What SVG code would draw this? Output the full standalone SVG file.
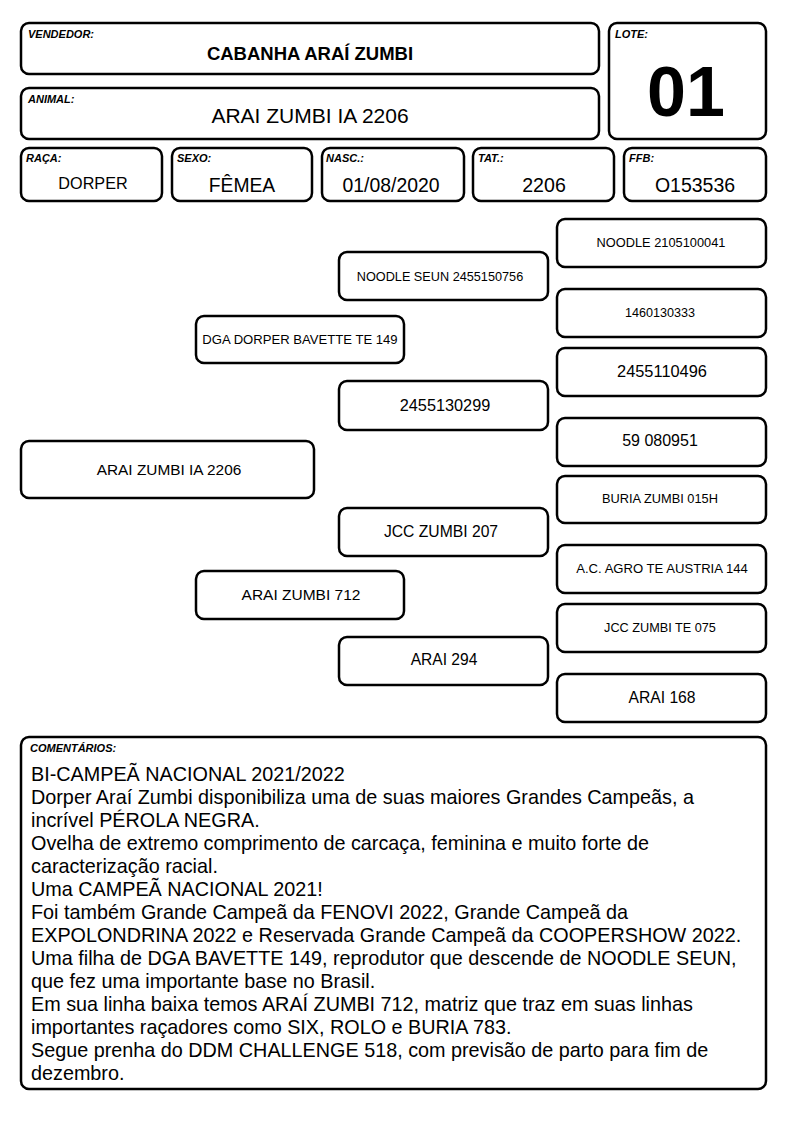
<svg xmlns="http://www.w3.org/2000/svg" width="794" height="1123" viewBox="0 0 794 1123">
<style>
.b{fill:#fff;stroke:#000;stroke-width:2.5}
text{font-family:"Liberation Sans",Arial,sans-serif;fill:#000}
.l{font-size:11px;font-weight:bold;font-style:italic}
.c{text-anchor:middle}
.cm{font-size:19.8px}
</style>
<rect width="794" height="1123" fill="#fff"/>
<g id="vendedor"><rect class="b" x="21" y="23" width="578" height="51" rx="8"/><text class="l" x="28" y="38">VENDEDOR:</text><text class="c" x="310" y="60" font-size="18.5" font-weight="bold">CABANHA ARAÍ ZUMBI</text></g>
<g id="animal"><rect class="b" x="21" y="88" width="578" height="51" rx="8"/><text class="l" x="28" y="103">ANIMAL:</text><text class="c" x="310" y="123" font-size="21">ARAI ZUMBI IA 2206</text></g>
<g id="lote"><rect class="b" x="609" y="23" width="157" height="116" rx="8"/><text class="l" x="615" y="38">LOTE:</text><text class="c" x="686" y="116" font-size="70" font-weight="bold">01</text></g>
<g id="raca"><rect class="b" x="21" y="148" width="141" height="53" rx="8"/><text class="l" x="26" y="162">RAÇA:</text><text class="c" x="93" y="189" font-size="16.2">DORPER</text></g>
<g id="sexo"><rect class="b" x="172" y="148" width="140" height="53" rx="8"/><text class="l" x="177" y="162">SEXO:</text><text class="c" x="242" y="192" font-size="19.3">FÊMEA</text></g>
<g id="nasc"><rect class="b" x="322" y="148" width="142" height="53" rx="8"/><text class="l" x="326" y="162">NASC.:</text><text class="c" x="391" y="192" font-size="19.4">01/08/2020</text></g>
<g id="tat"><rect class="b" x="473" y="148" width="141" height="53" rx="8"/><text class="l" x="478" y="162">TAT.:</text><text class="c" x="544" y="192" font-size="19.6">2206</text></g>
<g id="ffb"><rect class="b" x="624" y="148" width="142" height="53" rx="8"/><text class="l" x="629" y="162">FFB:</text><text class="c" x="695" y="192" font-size="19.5">O153536</text></g>
<g id="connectors"></g>
<g id="n-animal"><rect class="b" x="21" y="441" width="293" height="57" rx="8"/><text class="c" x="169" y="475" font-size="15.4">ARAI ZUMBI IA 2206</text></g>
<g id="n-pai"><rect class="b" x="196" y="316" width="208" height="47" rx="8"/><text class="c" x="300" y="344" font-size="13.1">DGA DORPER BAVETTE TE 149</text></g>
<g id="n-mae"><rect class="b" x="196" y="571" width="208" height="48" rx="8"/><text class="c" x="301" y="600" font-size="15.5">ARAI ZUMBI 712</text></g>
<g id="n-aa1"><rect class="b" x="339" y="252" width="209" height="48" rx="8"/><text class="c" x="440" y="281" font-size="12.7">NOODLE SEUN 2455150756</text></g>
<g id="n-aa2"><rect class="b" x="339" y="381" width="209" height="49" rx="8"/><text class="c" x="445" y="411" font-size="16.3">2455130299</text></g>
<g id="n-aa3"><rect class="b" x="339" y="508" width="209" height="48" rx="8"/><text class="c" x="441" y="537" font-size="15.7">JCC ZUMBI 207</text></g>
<g id="n-aa4"><rect class="b" x="339" y="637" width="209" height="48" rx="8"/><text class="c" x="444" y="665" font-size="15.6">ARAI 294</text></g>
<g id="n-b1"><rect class="b" x="557" y="219" width="209" height="48" rx="8"/><text class="c" x="661" y="247" font-size="12.8">NOODLE 2105100041</text></g>
<g id="n-b2"><rect class="b" x="557" y="289" width="209" height="48" rx="8"/><text class="c" x="660" y="317" font-size="12.6">1460130333</text></g>
<g id="n-b3"><rect class="b" x="557" y="348" width="209" height="48" rx="8"/><text class="c" x="662" y="377" font-size="16.4">2455110496</text></g>
<g id="n-b4"><rect class="b" x="557" y="418" width="209" height="48" rx="8"/><text class="c" x="660" y="446" font-size="16">59 080951</text></g>
<g id="n-b5"><rect class="b" x="557" y="476" width="209" height="47" rx="8"/><text class="c" x="660" y="503" font-size="12.8">BURIA ZUMBI 015H</text></g>
<g id="n-b6"><rect class="b" x="557" y="545" width="209" height="48" rx="8"/><text class="c" x="662" y="573" font-size="13.1">A.C. AGRO TE AUSTRIA 144</text></g>
<g id="n-b7"><rect class="b" x="557" y="604" width="209" height="48" rx="8"/><text class="c" x="660" y="632" font-size="12.7">JCC ZUMBI TE 075</text></g>
<g id="n-b8"><rect class="b" x="557" y="674" width="209" height="48" rx="8"/><text class="c" x="662" y="703" font-size="15.7">ARAI 168</text></g>
<g id="comentarios"><rect class="b" x="21" y="737" width="745" height="352" rx="8"/><text class="l" x="30" y="752">COMENTÁRIOS:</text>
<text class="cm" x="31" y="781">BI-CAMPEÃ NACIONAL 2021/2022</text>
<text class="cm" x="31" y="804">Dorper Araí Zumbi disponibiliza uma de suas maiores Grandes Campeãs, a</text>
<text class="cm" x="31" y="827">incrível PÉROLA NEGRA.</text>
<text class="cm" x="31" y="850">Ovelha de extremo comprimento de carcaça, feminina e muito forte de</text>
<text class="cm" x="31" y="873">caracterização racial.</text>
<text class="cm" x="31" y="896">Uma CAMPEÃ NACIONAL 2021!</text>
<text class="cm" x="31" y="919">Foi também Grande Campeã da FENOVI 2022, Grande Campeã da</text>
<text class="cm" x="31" y="942">EXPOLONDRINA 2022 e Reservada Grande Campeã da COOPERSHOW 2022.</text>
<text class="cm" x="31" y="965">Uma filha de DGA BAVETTE 149, reprodutor que descende de NOODLE SEUN,</text>
<text class="cm" x="31" y="988">que fez uma importante base no Brasil.</text>
<text class="cm" x="31" y="1011">Em sua linha baixa temos ARAÍ ZUMBI 712, matriz que traz em suas linhas</text>
<text class="cm" x="31" y="1034">importantes raçadores como SIX, ROLO e BURIA 783.</text>
<text class="cm" x="31" y="1057">Segue prenha do DDM CHALLENGE 518, com previsão de parto para fim de</text>
<text class="cm" x="31" y="1080">dezembro.</text>
</g>
</svg>
